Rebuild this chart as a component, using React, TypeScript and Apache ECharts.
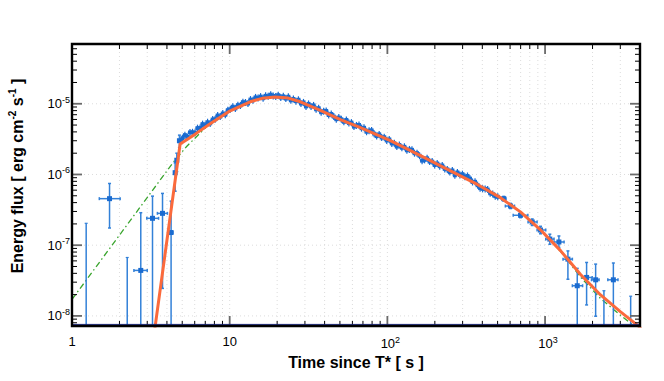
import { useEffect, useRef } from "react";
import * as echarts from "echarts";

const X_MIN = 1;
const X_MAX = 4000;
const Y_MIN = 7.2e-9;
const Y_MAX = 7e-5;
const OFF_SCALE = 1e-9;

const xDecades = [1, 10, 100, 1000];
const yDecades = [1e-9, 1e-8, 1e-7, 1e-6, 1e-5];
const minorMultipliers = [2, 3, 4, 5, 6, 7, 8, 9];

// fitted model (orange)
const fitTime = [3.3, 4.85, 6.04, 7.52, 10.07, 13.49, 16.07, 19.45, 23.5, 28.05, 37.58, 50.35, 67.45, 104.5, 162.2, 227, 372, 521, 698, 935, 1253, 1679, 2249, 3013, 3864, 4100];
const fitFlux = [5.1e-9, 2.7e-6, 3.72e-6, 5.22e-6, 7.96e-6, 1.067e-5, 1.194e-5, 1.242e-5, 1.202e-5, 1.067e-5, 8.05e-6, 5.96e-6, 4.59e-6, 3.01e-6, 1.85e-6, 1.26e-6, 7.23e-7, 4.7e-7, 2.96e-7, 1.65e-7, 8.38e-8, 3.85e-8, 1.98e-8, 1.14e-8, 7.35e-9, 6.5e-9];

// underlying component (green dash-dot)
const modelTime = [1, 4.38, 5.35, 7.17, 10.07, 13.49, 16.07, 19.45, 23.5, 28.05, 37.58, 50.35, 67.45, 104.5, 162.2, 227, 372, 521, 698, 935, 1253, 1679, 2249, 3013, 3864, 4100];
const modelFlux = [1.71e-8, 1.48e-6, 2.51e-6, 4.79e-6, 7.96e-6, 1.067e-5, 1.194e-5, 1.242e-5, 1.202e-5, 1.067e-5, 8.05e-6, 5.96e-6, 4.59e-6, 3.01e-6, 1.85e-6, 1.26e-6, 7.23e-7, 4.7e-7, 2.96e-7, 1.65e-7, 8.2e-8, 3.54e-8, 1.76e-8, 1.02e-8, 6.6e-9, 5.8e-9];

// dense, well-measured bins
const denseTime = [5.01, 5.2, 5.4, 5.6, 5.81, 6.03, 6.25, 6.49, 6.73, 6.98, 7.24, 7.52, 7.8, 8.09, 8.39, 8.71, 9.04, 9.38, 9.73, 10.09, 10.47, 10.86, 11.27, 11.69, 12.13, 12.59, 13.06, 13.55, 14.06, 14.59, 15.14, 15.7, 16.29, 16.9, 17.54, 18.2, 18.88, 19.59, 20.32, 21.09, 21.88, 22.7, 23.55, 24.43, 25.35, 26.3, 27.29, 28.31, 29.38, 30.48, 31.62, 32.81, 34.04, 35.32, 36.64, 38.02, 39.45, 40.93, 42.46, 44.06, 45.71, 47.42, 49.2, 51.05, 52.97, 54.95, 57.02, 59.16, 61.38, 63.68, 66.07, 68.55, 71.12, 73.79, 76.56, 79.43, 82.41, 85.51, 88.72, 92.04, 95.5, 99.08, 102.8, 106.7, 110.7, 114.8, 119.1, 123.6, 128.2, 133.0, 138.0, 143.2, 148.6, 154.2, 160.0, 166.0, 172.2, 178.6, 185.4, 192.3, 199.5, 207.0, 214.8, 222.8, 231.2, 239.9, 248.9, 258.2, 267.9, 278.0, 288.4, 299.2, 310.5, 322.1, 334.2, 346.7, 359.7, 373.3, 387.3, 401.8, 416.9, 432.5, 448.7, 465.6, 483.1, 501.2];
const denseFlux = [3.26e-6, 3.6e-6, 3.39e-6, 3.93e-6, 3.95e-6, 3.9e-6, 4.52e-6, 4.55e-6, 5.15e-6, 4.97e-6, 5.48e-6, 5.28e-6, 5.98e-6, 6.04e-6, 6.82e-6, 6.58e-6, 7.28e-6, 7.0e-6, 8.11e-6, 8.36e-6, 9.08e-6, 8.59e-6, 9.55e-6, 9.46e-6, 1.052e-5, 1.042e-5, 1.009e-5, 1.146e-5, 1.122e-5, 1.23e-5, 1.202e-5, 1.262e-5, 1.197e-5, 1.294e-5, 1.274e-5, 1.343e-5, 1.291e-5, 1.268e-5, 1.321e-5, 1.225e-5, 1.274e-5, 1.183e-5, 1.256e-5, 1.119e-5, 1.169e-5, 1.089e-5, 1.138e-5, 1.009e-5, 1.045e-5, 9.18e-6, 9.95e-6, 9.18e-6, 9.48e-6, 8.36e-6, 8.65e-6, 7.6e-6, 7.83e-6, 7.91e-6, 6.93e-6, 7.16e-6, 6.58e-6, 6.05e-6, 6.38e-6, 6.03e-6, 5.56e-6, 5.9e-6, 5.33e-6, 5.41e-6, 4.76e-6, 4.94e-6, 5.01e-6, 4.52e-6, 4.57e-6, 4.02e-6, 4.16e-6, 4.2e-6, 3.78e-6, 3.49e-6, 3.69e-6, 3.33e-6, 3.36e-6, 3.03e-6, 3.13e-6, 2.75e-6, 2.76e-6, 2.48e-6, 2.61e-6, 2.39e-6, 2.46e-6, 2.2e-6, 2.26e-6, 2.23e-6, 2.0e-6, 2.0e-6, 1.84e-6, 1.57e-6, 1.61e-6, 1.69e-6, 1.52e-6, 1.52e-6, 1.36e-6, 1.43e-6, 1.31e-6, 1.34e-6, 1.2e-6, 1.18e-6, 1.08e-6, 1.14e-6, 9.75e-7, 1.07e-6, 9.84e-7, 1.01e-6, 9.27e-7, 9.53e-7, 8.73e-7, 7.83e-7, 7.87e-7, 7.05e-7, 6.41e-7, 6.27e-7, 6.25e-7, 6.11e-7, 5.43e-7, 5.31e-7, 4.94e-7, 4.83e-7];

// sparse bins: [t, tLow, tHigh, flux, fluxLow, fluxHigh]
const sparsePoints = [
  [1.73, 1.49, 2.02, 4.55e-7, 1.75e-7, 7.46e-7],
  [2.73, 2.47, 3.0, 4.4e-8, OFF_SCALE, 2.88e-7],
  [3.24, 2.98, 3.54, 2.4e-7, OFF_SCALE, 4.94e-7],
  [3.75, 3.48, 4.03, 2.82e-7, 2.45e-8, 5.4e-7],
  [4.25, 4.14, 4.36, 1.51e-7, OFF_SCALE, 4.2e-7],
  [4.51, 4.44, 4.58, 1.06e-6, 5.8e-7, 1.46e-6],
  [4.62, 4.56, 4.69, 1.59e-6, 1.1e-6, 2.0e-6],
  [4.8, 4.74, 4.87, 3.0e-6, 2.4e-6, 3.6e-6],
  [547, 530, 565, 4.55e-7, 4.2e-7, 4.9e-7],
  [604, 560, 640, 3.58e-7, 3.3e-7, 3.9e-7],
  [699, 628, 778, 2.65e-7, 2.45e-7, 2.85e-7],
  [829, 780, 890, 2.13e-7, 1.9e-7, 2.35e-7],
  [936, 890, 1010, 1.64e-7, 1.45e-7, 1.85e-7],
  [1072, 1010, 1140, 1.22e-7, 1.03e-7, 1.43e-7],
  [1224, 1140, 1320, 1.11e-7, 9.3e-8, 1.35e-7],
  [1396, 1300, 1490, 6.35e-8, 3.3e-8, 8.3e-8],
  [1600, 1490, 1730, 2.67e-8, OFF_SCALE, 4.7e-8],
  [1834, 1730, 1990, 3.5e-8, 1.43e-8, 5.7e-8],
  [2093, 1970, 2200, 3.24e-8, 9.9e-9, 5.4e-8],
  [2711, 2500, 2900, 3.24e-8, OFF_SCALE, 5.6e-8],
];

// bins with only an upper bound: [t, fluxHigh]
const upperBars = [
  [1.23, 2.04e-7],
  [2.24, 6.7e-8],
  [2362, 2.27e-8],
  [3490, 1.9e-8],
];

const FONT = "Liberation Sans, Arial, Helvetica, sans-serif";
const BLUE = "#1a6bd0";
const BAR_BLUE = "#3381d8";

const GRID = { left: 72, right: 24, top: 44, bottom: 55 };
const W = 664;
const H = 381;

function buildTicks() {
  const out: number[][] = [];
  xDecades.forEach((d) => {
    if (d >= X_MIN && d <= X_MAX) out.push([d, Y_MAX, 0]);
    minorMultipliers.forEach((m) => {
      const v = d * m;
      if (v > X_MIN && v < X_MAX) out.push([v, Y_MAX, 1]);
    });
  });
  yDecades.forEach((d) => {
    if (d > Y_MIN && d < Y_MAX) out.push([X_MAX, d, 2]);
    minorMultipliers.forEach((m) => {
      const v = d * m;
      if (v > Y_MIN && v < Y_MAX) out.push([X_MAX, v, 3]);
    });
  });
  return out;
}

function isDecade(v: number) {
  const e = Math.log10(v);
  return Math.abs(e - Math.round(e)) < 1e-6;
}

export default function App() {
  const ref = useRef<HTMLDivElement>(null);
  useEffect(() => {
    document.body.style.margin = "0";
    const chart = echarts.init(ref.current!, null, { renderer: "svg" });
    const ticks = buildTicks();

    const axisBase = {
      type: "log" as const,
      logBase: 10,
      axisLine: { show: false, onZero: false },
      axisTick: { show: false },
      splitLine: { show: false },
      minorTick: { show: false },
      minorSplitLine: { show: false },
    };

    const plotW = W - GRID.left - GRID.right;
    const plotH = H - GRID.top - GRID.bottom;

    const option: any = {
      animation: false,
      backgroundColor: "#fff",
      grid: GRID,
      xAxis: [
        {
          ...axisBase,
          position: "bottom",
          min: X_MIN,
          max: X_MAX,
          name: "Time since T* [ s ]",
          nameLocation: "middle",
          nameGap: 27,
          nameTextStyle: { fontFamily: FONT, fontWeight: "bold", fontSize: 16, color: "#000" },
          axisLabel: {
            margin: 9,
            fontFamily: FONT,
            fontSize: 13,
            color: "#000",
            formatter: (v: number) => {
              if (!isDecade(v)) return "";
              const e = Math.round(Math.log10(v));
              if (e === 0) return "1";
              if (e === 1) return "10";
              return `{sp| }10{sup|${e}}`;
            },
            rich: {
              sp: { width: 6, fontSize: 9 },
              sup: { fontSize: 9, fontFamily: FONT, color: "#000", padding: [0, 0, 8, 0] },
            },
          },
        },
        { ...axisBase, position: "top", min: X_MIN, max: X_MAX, axisLabel: { show: false } },
      ],
      yAxis: [
        {
          ...axisBase,
          position: "left",
          min: Y_MIN,
          max: Y_MAX,
          axisLabel: {
            margin: 2,
            fontFamily: FONT,
            fontSize: 13,
            color: "#000",
            formatter: (v: number) => {
              if (!isDecade(v)) return "";
              const e = Math.round(Math.log10(v));
              return `10{sup|${e}}`;
            },
            rich: {
              sup: { fontSize: 9, fontFamily: FONT, color: "#000", padding: [0, 0, 8, 0] },
            },
          },
        },
        { ...axisBase, position: "right", min: Y_MIN, max: Y_MAX, axisLabel: { show: false } },
      ],
      graphic: [
        {
          type: "text",
          x: 17,
          y: 176,
          rotation: Math.PI / 2,
          style: {
            text: "Energy flux [ erg cm{sup|-2} s{sup|-1} ]",
            fontFamily: FONT,
            fontWeight: "bold",
            fontSize: 16,
            fill: "#000",
            align: "center",
            verticalAlign: "middle",
            rich: {
              sup: { fontFamily: FONT, fontWeight: "bold", fontSize: 10, fill: "#000", padding: [0, 0, 9, 0] },
            },
          },
        },
        {
          type: "line",
          z: 100,
          silent: true,
          shape: { x1: GRID.left, y1: GRID.top + plotH - 1.6, x2: GRID.left + plotW, y2: GRID.top + plotH - 1.6 },
          style: { stroke: "#1c2a8a", lineWidth: 1 },
        },
        {
          type: "rect",
          z: 101,
          silent: true,
          shape: { x: GRID.left, y: GRID.top, width: plotW, height: plotH },
          style: { fill: "transparent", stroke: "#000000", lineWidth: 2.4 },
        },
      ],
      series: [
        {
          // dotted grid lines
          type: "custom",
          silent: true,
          z: 1,
          data: ticks,
          encode: { x: 0, y: 1 },
          renderItem: (params: any, api: any) => {
            const cs = params.coordSys;
            const kind = api.value(2);
            const top = cs.y, bottom = cs.y + cs.height, left = cs.x, right = cs.x + cs.width;
            const gs = { stroke: "#dcdcdc", lineWidth: 1, lineDash: [1, 3] };
            if (kind === 0 || kind === 1) {
              const px = api.coord([api.value(0), Y_MAX])[0];
              return { type: "line", shape: { x1: px, y1: top, x2: px, y2: bottom }, style: gs };
            }
            if (kind === 2) {
              const py = api.coord([X_MAX, api.value(1)])[1];
              return { type: "line", shape: { x1: left, y1: py, x2: right, y2: py }, style: gs };
            }
            return { type: "group", children: [] };
          },
        },
        {
          type: "line",
          name: "model",
          data: modelTime.map((t, i) => [t, modelFlux[i]]),
          showSymbol: false,
          clip: true,
          z: 3,
          lineStyle: { color: "#3aa52e", width: 1.3, type: [6, 3, 1.5, 3] },
        },
        {
          // upper-limit bars
          type: "custom",
          clip: true,
          z: 4,
          data: upperBars,
          encode: { x: 0, y: 1 },
          renderItem: (params: any, api: any) => {
            const cs = params.coordSys;
            const p = api.coord([api.value(0), api.value(1)]);
            return {
              type: "group",
              children: [
                { type: "line", shape: { x1: p[0], y1: p[1], x2: p[0], y2: cs.y + cs.height + 3 }, style: { stroke: BAR_BLUE, lineWidth: 1.5 } },
                { type: "line", shape: { x1: p[0] - 1.5, y1: p[1], x2: p[0] + 1.5, y2: p[1] }, style: { stroke: BAR_BLUE, lineWidth: 1.2 } },
              ],
            };
          },
        },
        {
          // sparse points with error bars
          type: "custom",
          clip: true,
          z: 4,
          data: sparsePoints,
          encode: { x: [0, 1, 2], y: [3, 4, 5] },
          renderItem: (params: any, api: any) => {
            const t = api.value(0), tLo = api.value(1), tHi = api.value(2);
            const f = api.value(3), fLo = api.value(4), fHi = api.value(5);
            const c = api.coord([t, f]);
            const l = api.coord([tLo, f]);
            const r = api.coord([tHi, f]);
            const lo = api.coord([t, fLo]);
            const hi = api.coord([t, fHi]);
            const st = { stroke: BAR_BLUE, lineWidth: 1.5 };
            return {
              type: "group",
              children: [
                { type: "line", shape: { x1: l[0], y1: c[1], x2: r[0], y2: c[1] }, style: st },
                { type: "line", shape: { x1: c[0], y1: lo[1], x2: c[0], y2: hi[1] }, style: st },
                { type: "line", shape: { x1: c[0] - 1.5, y1: hi[1], x2: c[0] + 1.5, y2: hi[1] }, style: st },
                { type: "line", shape: { x1: c[0] - 1.5, y1: lo[1], x2: c[0] + 1.5, y2: lo[1] }, style: st },
                { type: "line", shape: { x1: l[0], y1: c[1] - 1.5, x2: l[0], y2: c[1] + 1.5 }, style: st },
                { type: "line", shape: { x1: r[0], y1: c[1] - 1.5, x2: r[0], y2: c[1] + 1.5 }, style: st },
                { type: "rect", shape: { x: c[0] - 2.5, y: c[1] - 2.5, width: 5, height: 5 }, style: { fill: BLUE } },
              ],
            };
          },
        },
        {
          // dense points
          type: "custom",
          clip: true,
          z: 5,
          data: denseTime.map((t, i) => [t, denseFlux[i]]),
          encode: { x: 0, y: 1 },
          renderItem: (params: any, api: any) => {
            const c = api.coord([api.value(0), api.value(1)]);
            return {
              type: "group",
              children: [
                { type: "line", shape: { x1: c[0], y1: c[1] - 3.5, x2: c[0], y2: c[1] + 3.5 }, style: { stroke: BLUE, lineWidth: 1.2 } },
                { type: "line", shape: { x1: c[0] - 2.2, y1: c[1], x2: c[0] + 2.2, y2: c[1] }, style: { stroke: BLUE, lineWidth: 1.2 } },
                { type: "rect", shape: { x: c[0] - 2, y: c[1] - 2, width: 4, height: 4 }, style: { fill: BLUE } },
              ],
            };
          },
        },
        {
          type: "line",
          name: "fit",
          data: fitTime.map((t, i) => [t, fitFlux[i]]),
          showSymbol: false,
          clip: true,
          z: 6,
          lineStyle: { color: "#fb6a3c", width: 3 },
        },
        {
          // ticks on all four sides
          type: "custom",
          silent: true,
          z: 8,
          data: ticks,
          encode: { x: 0, y: 1 },
          renderItem: (params: any, api: any) => {
            const cs = params.coordSys;
            const kind = api.value(2);
            const top = cs.y, bottom = cs.y + cs.height, left = cs.x, right = cs.x + cs.width;
            const major = kind === 0 || kind === 2;
            const len = major ? 10 : 5;
            const st = { stroke: major ? "#6a6a6a" : "#000", lineWidth: major ? 1.8 : 1 };
            const children: any[] = [];
            if (kind === 0 || kind === 1) {
              const px = api.coord([api.value(0), Y_MAX])[0];
              children.push({ type: "line", shape: { x1: px, y1: bottom, x2: px, y2: bottom - len }, style: st });
              children.push({ type: "line", shape: { x1: px, y1: top, x2: px, y2: top + len }, style: st });
            } else {
              const py = api.coord([X_MAX, api.value(1)])[1];
              children.push({ type: "line", shape: { x1: left, y1: py, x2: left + len, y2: py }, style: st });
              children.push({ type: "line", shape: { x1: right, y1: py, x2: right - len, y2: py }, style: st });
            }
            return { type: "group", children };
          },
        },
      ],
    };

    chart.setOption(option);
    return () => chart.dispose();
  }, []);
  return <div ref={ref} style={{ width: W, height: H }} />;
}
